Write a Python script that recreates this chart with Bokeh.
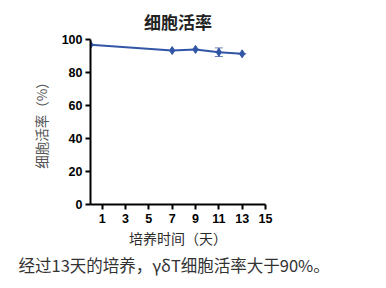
from bokeh.plotting import figure
from bokeh.models import ColumnDataSource, Range1d, FixedTicker, Whisker, Title
from bokeh.embed import file_html
from bokeh.resources import INLINE

days = [0, 7, 9, 11, 13]
viability = [96.8, 93.3, 94.0, 92.3, 91.3]
errors = [0.0, 0.0, 0.0, 2.6, 0.0]
x_ticks = [1, 3, 5, 7, 9, 11, 13, 15]
y_ticks = [0, 20, 40, 60, 80, 100]

title_text = "细胞活率"
ylabel = "细胞活率（%）"
xlabel = "培养时间（天）"
caption = "经过13天的培养，γδT细胞活率大于90%。"

CJK = "Noto Sans CJK SC"
BLUE = "#3256a6"

src = ColumnDataSource(dict(
    x=days, y=viability,
    lo=[v - e for v, e in zip(viability, errors)],
    hi=[v + e for v, e in zip(viability, errors)],
))

p = figure(width=386, height=288, output_backend="svg", toolbar_location=None,
           x_range=Range1d(0, 15), y_range=Range1d(0, 100),
           min_border_left=90, min_border_right=121, min_border_top=0, min_border_bottom=84)
p.outline_line_color = None
p.grid.visible = False
p.background_fill_color = "white"
p.border_fill_color = "white"

for ax in (p.xaxis[0], p.yaxis[0]):
    ax.axis_line_width = 2
    ax.axis_line_color = "black"
    ax.major_tick_line_width = 2
    ax.major_tick_line_color = "black"
    ax.major_tick_out = 5
    ax.major_tick_in = 0
    ax.minor_tick_line_color = None
    ax.major_label_text_font = "Liberation Sans"
    ax.major_label_text_font_style = "bold"
    ax.major_label_text_font_size = "12.5px"
    ax.major_label_text_color = "black"
    ax.axis_label_text_font = CJK
    ax.axis_label_text_font_style = "normal"

p.xaxis.ticker = FixedTicker(ticks=x_ticks)
p.yaxis.ticker = FixedTicker(ticks=y_ticks)
p.xaxis.major_label_standoff = 4
p.yaxis.major_label_standoff = 3
p.xaxis.axis_label = xlabel
p.yaxis.axis_label = ylabel
p.xaxis.axis_label_text_font_size = "14px"
p.xaxis.axis_label_text_color = "#2a2a2a"
p.yaxis.axis_label_text_font_size = "13.5px"
p.yaxis.axis_label_text_color = "#555555"
p.xaxis.axis_label_standoff = 2
p.yaxis.axis_label_standoff = 8

p.line("x", "y", source=src, line_color=BLUE, line_width=2)
p.scatter("x", "y", source=src, marker="diamond", size=8, fill_color=BLUE, line_color=BLUE)
w = Whisker(source=src, base="x", lower="lo", upper="hi", line_color="#6a7fb8", line_width=1.5)
w.upper_head.size = 8
w.lower_head.size = 8
w.upper_head.line_color = "#6a7fb8"
w.lower_head.line_color = "#6a7fb8"
p.add_layout(w)

p.title = Title(text=title_text, align="center", text_font=CJK,
                text_font_style="bold", text_font_size="17px", text_color="#222222", standoff=12)
p.title.offset = 0
p.add_layout(Title(text=caption, align="left", text_font=CJK, text_font_style="normal",
                   text_font_size="16.5px", text_color="#333333", offset=-72, standoff=0), "below")

open("out.html", "w").write(file_html(p, INLINE))
